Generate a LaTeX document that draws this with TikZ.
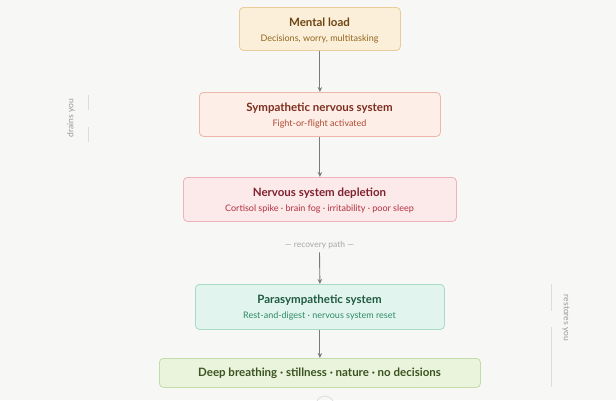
\documentclass[tikz,border=0pt]{standalone}
\usepackage{fontspec}
\setmainfont{Lato}
\usetikzlibrary{arrows.meta}
\definecolor{bg}{HTML}{F7F7F5}
\definecolor{arr}{HTML}{7A7A7A}
\definecolor{side}{HTML}{9A9A9A}
\definecolor{sline}{HTML}{DDDDDA}
\definecolor{f1}{HTML}{FBEFD9}\definecolor{d1}{HTML}{EBCB9C}\definecolor{t1}{HTML}{6E4412}\definecolor{s1}{HTML}{93651E}
\definecolor{f2}{HTML}{FDEEE8}\definecolor{d2}{HTML}{EDB8A8}\definecolor{t2}{HTML}{7E2E1E}\definecolor{s2}{HTML}{B04A30}
\definecolor{f3}{HTML}{FCE9EA}\definecolor{d3}{HTML}{EDB3B8}\definecolor{t3}{HTML}{7E222E}\definecolor{s3}{HTML}{B0303F}
\definecolor{f4}{HTML}{E2F4EE}\definecolor{d4}{HTML}{A8DCC8}\definecolor{t4}{HTML}{1E5A42}\definecolor{s4}{HTML}{2E8A66}
\definecolor{f5}{HTML}{EAF3DC}\definecolor{d5}{HTML}{C4DDA8}\definecolor{t5}{HTML}{3A5420}
\definecolor{rc}{HTML}{A8A8A8}
\begin{document}
\begin{tikzpicture}[x=1pt,y=-1pt,
  box/.style={draw, rounded corners=4pt, line width=0.8pt, anchor=north west, inner sep=0pt},
  ttl/.style={font=\fontsize{11.5}{13}\selectfont\bfseries},
  sub/.style={font=\fontsize{9}{11}\selectfont},
  conn/.style={draw=arr, line width=0.9pt, -{Stealth[length=5pt,width=4.5pt]}},
  sidetxt/.style={text=side, font=\fontsize{8.5}{10}\selectfont},
  sl/.style={draw=sline, line width=0.8pt}]
\fill[bg] (0,0) rectangle (616,400);
\useasboundingbox (0,0) rectangle (616,400);
% boxes
\node[box, fill=f1, draw=d1, minimum width=161pt, minimum height=43pt] (b1) at (239,7) {};
\node[ttl, text=t1] (b1t) at (319.5,22) {Mental load};
\node[sub, text=s1] (b1s) at (319.5,39) {Decisions, worry, multitasking};
\node[box, fill=f2, draw=d2, minimum width=241pt, minimum height=44pt] (b2) at (199,92) {};
\node[ttl, text=t2] (b2t) at (319.5,108) {Sympathetic nervous system};
\node[sub, text=s2] (b2s) at (319.5,124) {Fight-or-flight activated};
\node[box, fill=f3, draw=d3, minimum width=273pt, minimum height=44pt] (b3) at (183,177) {};
\node[ttl, text=t3] (b3t) at (319.5,193) {Nervous system depletion};
\node[sub, text=s3] (b3s) at (319.5,209) {Cortisol spike · brain fog · irritability · poor sleep};
\node[text=rc, font=\fontsize{8.5}{10}\selectfont] (rec) at (319.5,245) {— recovery path —};
\node[box, fill=f4, draw=d4, minimum width=249pt, minimum height=45pt] (b4) at (195,284) {};
\node[ttl, text=t4] (b4t) at (319.5,300) {Parasympathetic system};
\node[sub, text=s4] (b4s) at (319.5,316) {Rest-and-digest · nervous system reset};
\node[box, fill=f5, draw=d5, minimum width=321pt, minimum height=29pt] (b5) at (159,358) {};
\node[ttl, text=t5] (b5t) at (319.5,373) {Deep breathing · stillness · nature · no decisions};
% connectors
\path[conn] (b1.south) -- (b2.north);
\path[conn] (b2.south) -- (b3.north);
\path[conn] (rec.south) -- (b4.north);
\path[conn] (b4.south) -- (b5.north);
% side labels
\node[sidetxt, rotate=90] (dr) at (71,118) {drains you};
\draw[sl] (88,95) -- (88,110);
\draw[sl] (88,127) -- (88,142);
\node[sidetxt, rotate=-90] (rs) at (566,318) {restores you};
\draw[sl] (551,284) -- (551,311);
\draw[sl] (551,327) -- (551,387);
\draw[sl] (325,405) circle (9);
\end{tikzpicture}
\end{document}
